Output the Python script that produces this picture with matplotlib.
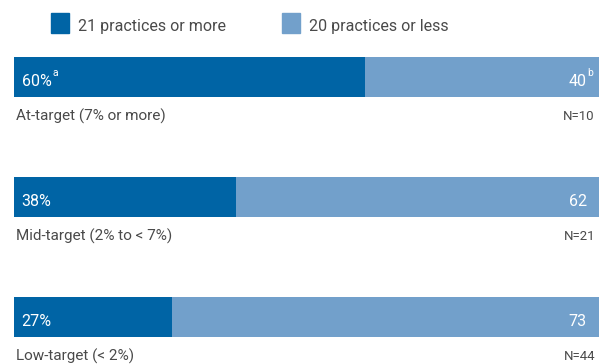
import matplotlib.pyplot as plt
from matplotlib.patches import Rectangle

plt.rcParams['font.family'] = ['Roboto', 'DejaVu Sans']

categories = ['At-target (7% or more)', 'Mid-target (2% to < 7%)', 'Low-target (< 2%)']
more_21 = [60, 38, 27]
less_20 = [40, 62, 73]
counts = [10, 21, 44]
notes_more = ['a', '', '']
notes_less = ['b', '', '']

dark = '#0064a5'
light = '#72a0cb'
grey = '#4a4a4a'

fig = plt.figure(figsize=(6.03, 3.64), dpi=100)
ax = fig.add_axes([14 / 603, 0, 585 / 603, 1])
ax.set_xlim(0, 100)
ax.set_ylim(2.392, -0.642)
ax.axis('off')

ypos = range(len(categories))
ax.barh(ypos, more_21, height=0.335, color=dark)
ax.barh(ypos, less_20, left=more_21, height=0.335, color=light)

value_texts = []
for i, cat in enumerate(categories):
    t = ax.text(1.3, i + 0.04, f'{more_21[i]}%', color='white', fontsize=11.5,
                va='center', ha='left')
    t2 = ax.text(97.9, i + 0.04, f'{less_20[i]}', color='white', fontsize=11.5,
                 va='center', ha='right')
    value_texts.append((t, notes_more[i]))
    value_texts.append((t2, notes_less[i]))
    ax.text(0.3, i + 0.33, cat, color=grey, fontsize=11,
            va='center', ha='left')
    ax.text(99.3, i + 0.33, f'N={counts[i]}', color=grey, fontsize=9.5,
            va='center', ha='right')

# superscript footnote letters next to the values
fig.canvas.draw()
renderer = fig.canvas.get_renderer()
for t, note in value_texts:
    if not note:
        continue
    bb = t.get_window_extent(renderer)
    fig.text((bb.x1 + 1) / 603, (bb.y1 + 1) / 364, note, color='white',
             fontsize=7.5, va='center', ha='left')

# legend row
for x0, col, label in [(51, dark, '21 practices or more'), (282, light, '20 practices or less')]:
    fig.patches.append(Rectangle((x0 / 603, 1 - 33 / 364), 18 / 603, 20 / 364,
                                 transform=fig.transFigure, color=col))
    fig.text((x0 + 27) / 603, 1 - 27 / 364, label, color=grey, fontsize=11.5,
             va='center', ha='left')

fig.savefig('out.png', dpi=100)
